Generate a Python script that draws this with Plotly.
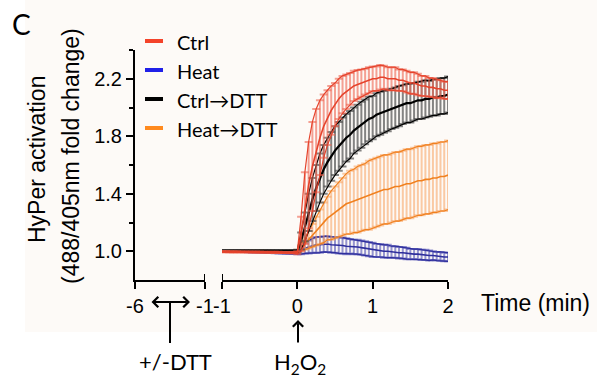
import plotly.graph_objects as go

# ---------------- data ----------------
time_min = [-1.00, -0.95, -0.90, -0.85, -0.80, -0.75, -0.70, -0.65, -0.60, -0.55,
            -0.50, -0.45, -0.40, -0.35, -0.30, -0.25, -0.20, -0.15, -0.10, -0.05,
            0.00, 0.05, 0.10, 0.15, 0.20, 0.25, 0.30, 0.35, 0.40, 0.45,
            0.50, 0.55, 0.60, 0.65, 0.70, 0.75, 0.80, 0.85, 0.90, 0.95,
            1.00, 1.05, 1.10, 1.15, 1.20, 1.25, 1.30, 1.35, 1.40, 1.45,
            1.50, 1.55, 1.60, 1.65, 1.70, 1.75, 1.80, 1.85, 1.90, 1.95, 2.00]

ctrl_mean = [0.997, 0.997, 0.996, 0.996, 0.996, 0.995, 0.995, 0.995, 0.994, 0.994,
             0.994, 0.993, 0.993, 0.993, 0.992, 0.992, 0.991, 0.991, 0.990, 0.990,
             0.99, 1.12, 1.30, 1.46, 1.59, 1.70, 1.79, 1.87, 1.93, 1.98,
             2.02, 2.06, 2.09, 2.11, 2.13, 2.15, 2.16, 2.17, 2.18, 2.19,
             2.20, 2.20, 2.21, 2.21, 2.20, 2.20, 2.20, 2.19, 2.19, 2.18,
             2.17, 2.17, 2.16, 2.15, 2.15, 2.14, 2.14, 2.13, 2.13, 2.12, 2.12]
ctrl_sem = [0.004, 0.004, 0.004, 0.004, 0.004, 0.004, 0.004, 0.004, 0.004, 0.004,
            0.004, 0.004, 0.004, 0.004, 0.004, 0.004, 0.004, 0.004, 0.004, 0.004,
            0.01, 0.12, 0.25, 0.30, 0.31, 0.29, 0.26, 0.22, 0.19, 0.17,
            0.15, 0.14, 0.13, 0.12, 0.11, 0.105, 0.10, 0.095, 0.09, 0.09,
            0.085, 0.085, 0.085, 0.08, 0.08, 0.08, 0.08, 0.075, 0.075, 0.075,
            0.075, 0.075, 0.075, 0.07, 0.07, 0.065, 0.065, 0.065, 0.06, 0.06, 0.06]

heat_mean = [1.00, 1.00, 1.00, 1.00, 1.00, 1.00, 0.999, 0.998, 0.997, 0.996,
             0.995, 0.994, 0.993, 0.992, 0.991, 0.990, 0.989, 0.988, 0.987, 0.986,
             0.985, 1.00, 1.02, 1.03, 1.04, 1.045, 1.045, 1.05, 1.05, 1.045,
             1.045, 1.04, 1.04, 1.035, 1.035, 1.03, 1.03, 1.025, 1.02, 1.015,
             1.01, 1.005, 1.005, 1.00, 1.00, 0.995, 0.995, 0.99, 0.99, 0.985,
             0.98, 0.98, 0.98, 0.975, 0.975, 0.97, 0.97, 0.965, 0.965, 0.96, 0.96]
heat_sem = [0.005, 0.005, 0.005, 0.005, 0.005, 0.005, 0.005, 0.005, 0.005, 0.005,
            0.005, 0.005, 0.005, 0.005, 0.005, 0.005, 0.005, 0.005, 0.005, 0.005,
            0.005, 0.02, 0.035, 0.045, 0.05, 0.055, 0.055, 0.055, 0.055, 0.055,
            0.055, 0.055, 0.055, 0.055, 0.05, 0.05, 0.05, 0.05, 0.05, 0.05,
            0.05, 0.045, 0.045, 0.045, 0.045, 0.04, 0.04, 0.04, 0.04, 0.04,
            0.035, 0.035, 0.035, 0.035, 0.035, 0.035, 0.03, 0.03, 0.03, 0.03, 0.03]

ctrl_dtt_mean = [1.002, 1.002, 1.002, 1.002, 1.002, 1.002, 1.002, 1.002, 1.002, 1.002,
                 1.002, 1.002, 1.002, 1.002, 1.002, 1.002, 1.002, 1.002, 1.002, 1.002,
                 1.00, 1.07, 1.17, 1.27, 1.36, 1.44, 1.51, 1.57, 1.62, 1.66,
                 1.70, 1.73, 1.76, 1.79, 1.81, 1.84, 1.86, 1.88, 1.90, 1.92,
                 1.93, 1.95, 1.96, 1.97, 1.98, 1.99, 2.00, 2.01, 2.02, 2.03,
                 2.03, 2.04, 2.05, 2.05, 2.06, 2.06, 2.07, 2.07, 2.08, 2.08, 2.09]
ctrl_dtt_sem = [0.005, 0.005, 0.005, 0.005, 0.005, 0.005, 0.005, 0.005, 0.005, 0.005,
                0.005, 0.005, 0.005, 0.005, 0.005, 0.005, 0.005, 0.005, 0.005, 0.005,
                0.01, 0.06, 0.10, 0.13, 0.15, 0.16, 0.17, 0.17, 0.17, 0.17,
                0.17, 0.17, 0.17, 0.165, 0.165, 0.16, 0.16, 0.16, 0.155, 0.155,
                0.15, 0.15, 0.15, 0.145, 0.145, 0.14, 0.14, 0.14, 0.135, 0.135,
                0.135, 0.13, 0.13, 0.13, 0.13, 0.125, 0.125, 0.125, 0.125, 0.125, 0.125]

heat_dtt_mean = [1.00, 1.00, 1.00, 1.00, 1.00, 1.00, 1.00, 1.00, 1.00, 1.00,
                 1.00, 1.00, 0.999, 0.998, 0.997, 0.996, 0.995, 0.995, 0.994, 0.994,
                 1.00, 1.02, 1.05, 1.08, 1.11, 1.14, 1.17, 1.20, 1.23, 1.25,
                 1.27, 1.29, 1.31, 1.33, 1.34, 1.35, 1.36, 1.37, 1.38, 1.39,
                 1.40, 1.41, 1.42, 1.43, 1.43, 1.44, 1.45, 1.45, 1.46, 1.47,
                 1.47, 1.48, 1.49, 1.49, 1.50, 1.50, 1.51, 1.51, 1.52, 1.52, 1.53]
heat_dtt_sem = [0.005, 0.005, 0.005, 0.005, 0.005, 0.005, 0.005, 0.005, 0.005, 0.005,
                0.005, 0.005, 0.005, 0.005, 0.005, 0.005, 0.005, 0.005, 0.005, 0.005,
                0.01, 0.02, 0.04, 0.06, 0.08, 0.10, 0.12, 0.14, 0.15, 0.17,
                0.18, 0.19, 0.20, 0.21, 0.22, 0.22, 0.23, 0.23, 0.23, 0.24,
                0.24, 0.24, 0.24, 0.24, 0.24, 0.24, 0.24, 0.24, 0.24, 0.24,
                0.24, 0.24, 0.24, 0.24, 0.24, 0.24, 0.24, 0.24, 0.24, 0.24, 0.24]

series_names = ["Ctrl", "Heat", "Ctrl\u2192DTT", "Heat\u2192DTT"]

left_ticks = [-6, -1]
right_ticks = [-1, 0, 1, 2]
y_ticks = [1.0, 1.4, 1.8, 2.2]
y_minor_ticks = [1.2, 1.6, 2.0, 2.4]

# ---------------- styling ----------------
W, H = 597, 382
ML, MR, MT, MB = 135, 149, 50, 102
PW, PH = W - ML - MR, H - MT - MB


def px_x(px):
    return (px - ML) / PW


def px_y(py):
    return (H - MB - py) / PH


styles = {
    "Ctrl": dict(line="#e5432c", bar="rgba(238,100,80,0.6)", legend="#f4432a", w=1.6),
    "Heat": dict(line="#2e2e9c", bar="rgba(80,80,180,0.6)", legend="#2020e8", w=1.6),
    "Ctrl\u2192DTT": dict(line="#000000", bar="rgba(80,80,80,0.7)", legend="#000000", w=2.2),
    "Heat\u2192DTT": dict(line="#f0801f", bar="rgba(247,160,95,0.55)", legend="#ff8a1e", w=1.6),
}

data = {
    "Ctrl": (ctrl_mean, ctrl_sem),
    "Heat": (heat_mean, heat_sem),
    "Ctrl\u2192DTT": (ctrl_dtt_mean, ctrl_dtt_sem),
    "Heat\u2192DTT": (heat_dtt_mean, heat_dtt_sem),
}

draw_order = ["Heat", "Heat\u2192DTT", "Ctrl\u2192DTT", "Ctrl"]

AX_FONT = "Liberation Sans, Arial, sans-serif"
TXT_FONT = "Lato, Open Sans, sans-serif"

fig = go.Figure()

for name in draw_order:
    mean, sem = data[name]
    st = styles[name]
    upper = [m + s for m, s in zip(mean, sem)]
    lower = [m - s for m, s in zip(mean, sem)]
    fig.add_trace(go.Scatter(
        x=time_min, y=mean, mode="lines", name=name, showlegend=False,
        line=dict(color=st["line"], width=st["w"]),
        error_y=dict(type="data", array=sem, visible=True, color=st["bar"],
                     thickness=2, width=4),
        xaxis="x2", yaxis="y", hoverinfo="skip"))
    for env in (upper, lower):
        fig.add_trace(go.Scatter(
            x=time_min, y=env, mode="lines", showlegend=False,
            line=dict(color=st["line"], width=1.2),
            xaxis="x2", yaxis="y", hoverinfo="skip"))

axis_common = dict(showline=True, linecolor="black", linewidth=2, ticks="outside",
                   ticklen=7, tickwidth=2, tickcolor="black", showgrid=False,
                   zeroline=False, tickfont=dict(family=AX_FONT, size=20, color="black"))

fig.update_layout(
    width=W, height=H,
    margin=dict(l=ML, r=MR, t=MT, b=MB, pad=0),
    paper_bgcolor="white", plot_bgcolor="rgba(0,0,0,0)",
    showlegend=False,
    xaxis=dict(domain=[0, px_x(205)], range=[-6, -1], tickmode="array",
               tickvals=left_ticks, ticktext=[str(v) for v in left_ticks],
               anchor="y", **axis_common),
    xaxis2=dict(domain=[px_x(222), 1], range=[-1, 2], tickmode="array",
                tickvals=right_ticks, ticktext=[str(v) for v in right_ticks],
                anchor="y", **axis_common),
    yaxis=dict(domain=[0, 1], range=[0.8, 2.4], tickmode="array",
               tickvals=y_ticks, ticktext=["%.1f" % v for v in y_ticks],
               anchor="x",
               minor=dict(tickmode="array", tickvals=y_minor_ticks, ticks="outside",
                          ticklen=4, tickwidth=2, tickcolor="black", showgrid=False),
               **axis_common),
)

shapes = []
# faint beige background of the panel image
shapes.append(dict(type="rect", xref="paper", yref="paper", layer="below",
                   x0=px_x(25), x1=px_x(597), y0=px_y(332), y1=px_y(0),
                   fillcolor="#fdfaf7", line=dict(width=0)))
# upward end caps at axis break
for xr in ("x", "x2"):
    shapes.append(dict(type="line", xref=xr, yref="paper", x0=-1, x1=-1,
                       y0=0, y1=px_y(274), line=dict(color="black", width=2)))
# DTT stem
shapes.append(dict(type="line", xref="paper", yref="paper",
                   x0=px_x(170), x1=px_x(170), y0=px_y(303), y1=px_y(343),
                   line=dict(color="black", width=2)))

# legend (manual)
legend_rows = [41, 70, 99, 128]
for name, row in zip(series_names, legend_rows):
    shapes.append(dict(type="line", xref="paper", yref="paper",
                       x0=px_x(145), x1=px_x(163), y0=px_y(row), y1=px_y(row),
                       line=dict(color=styles[name]["legend"], width=4)))

annotations = []
for name, row in zip(series_names, legend_rows):
    annotations.append(dict(text=name, xref="paper", yref="paper",
                            x=px_x(175), y=px_y(row + 1), xanchor="left", yanchor="middle",
                            showarrow=False,
                            font=dict(family=TXT_FONT, size=20, color="black")))

annotations += [
    dict(text="C", xref="paper", yref="paper", x=px_x(22), y=px_y(24),
         xanchor="center", yanchor="middle", showarrow=False,
         font=dict(family=TXT_FONT, size=28, color="black")),
    dict(text="HyPer activation", xref="paper", yref="paper", x=px_x(37), y=px_y(160),
         textangle=-90, xanchor="center", yanchor="middle", showarrow=False,
         font=dict(family=AX_FONT, size=23, color="black")),
    dict(text="(488/405nm fold change)", xref="paper", yref="paper", x=px_x(71), y=px_y(156),
         textangle=-90, xanchor="center", yanchor="middle", showarrow=False,
         font=dict(family=AX_FONT, size=23, color="black")),
    dict(text="Time (min)", xref="paper", yref="paper", x=px_x(479), y=px_y(303),
         xanchor="left", yanchor="middle", showarrow=False,
         font=dict(family=AX_FONT, size=23, color="black")),
    dict(text="+/-DTT", xref="paper", yref="paper", x=px_x(175), y=px_y(361),
         xanchor="center", yanchor="middle", showarrow=False,
         font=dict(family=TXT_FONT, size=22, color="black")),
    dict(text="H<sub>2</sub>O<sub>2</sub>", xref="paper", yref="paper", x=px_x(300), y=px_y(363),
         xanchor="center", yanchor="middle", showarrow=False,
         font=dict(family=TXT_FONT, size=22, color="black")),
    # double arrow for DTT
    dict(text="", xref="paper", yref="paper", x=px_x(190), y=px_y(302),
         ax=-40, ay=0, showarrow=True, arrowhead=4, startarrowhead=4,
         arrowside="end+start", arrowsize=1, arrowwidth=2, arrowcolor="black"),
    # H2O2 arrow
    dict(text="", xref="paper", yref="paper", x=px_x(298), y=px_y(320),
         ax=0, ay=24, showarrow=True, arrowhead=4, arrowsize=1, arrowwidth=2,
         arrowcolor="black"),
]

fig.update_layout(shapes=shapes, annotations=annotations)

fig.write_html("out.html")
